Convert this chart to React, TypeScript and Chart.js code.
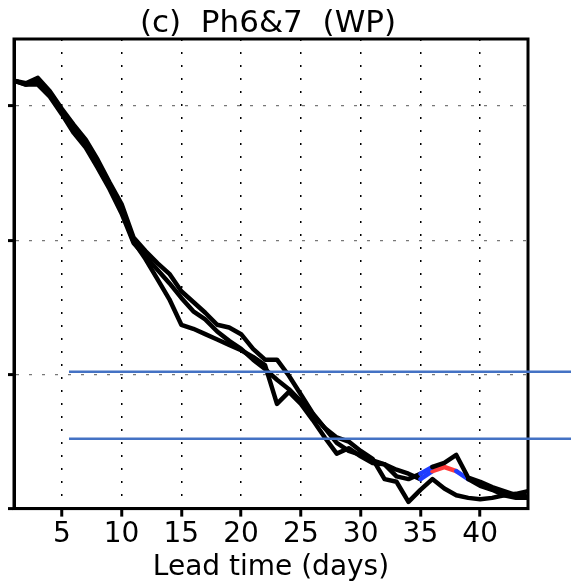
import React, { useEffect, useRef } from "react";
import { Chart, registerables } from "chart.js";

Chart.register(...registerables);

const titleText = "(c)  Ph6&7  (WP)";
const xTitleText = "Lead time (days)";

const leadDays = [
  1, 2, 3, 4, 5, 6, 7, 8, 9, 10, 11, 12, 13, 14, 15, 16, 17, 18, 19, 20, 21, 22,
  23, 24, 25, 26, 27, 28, 29, 30, 31, 32, 33, 34, 35, 36, 37, 38, 39, 40, 41, 42, 43, 44,
];

const seriesA = [
  3.19, 3.16, 3.19, 3.1, 2.96, 2.84, 2.72, 2.57, 2.4, 2.23, 1.99, 1.86, 1.71, 1.56, 1.37, 1.34,
  1.3, 1.26, 1.22, 1.18, 1.13, 1.07, 0.78, 0.87, 0.78, 0.66, 0.53, 0.41, 0.45, 0.39, 0.34, 0.33,
  0.24, 0.22, 0.26, 0.31, 0.34, 0.4, 0.23, 0.2, 0.16, 0.13, 0.1, 0.09,
];

const seriesB = [
  3.19, 3.16, 3.16, 3.07, 2.94, 2.8, 2.69, 2.54, 2.38, 2.2, 1.98, 1.88, 1.78, 1.68, 1.57, 1.47,
  1.41, 1.32, 1.25, 1.19, 1.11, 1.04, 0.96, 0.89, 0.8, 0.7, 0.6, 0.49, 0.43, 0.4, 0.36, 0.33,
  0.29, 0.26, 0.22, 0.28, 0.31, 0.28, 0.22, 0.17, 0.14, 0.1, 0.08, 0.08,
];

const seriesC = [
  3.19, 3.17, 3.21, 3.11, 2.98, 2.86, 2.75, 2.6, 2.43, 2.27, 2.02, 1.92, 1.83, 1.75, 1.62, 1.54,
  1.46, 1.37, 1.35, 1.3, 1.19, 1.11, 1.11, 0.99, 0.85, 0.71, 0.6, 0.53, 0.5, 0.43, 0.37, 0.22,
  0.2, 0.05, 0.14, 0.22, 0.15, 0.1, 0.08, 0.07, 0.08, 0.1, 0.11, 0.13,
];

// segment start days flagged as significant (red = positive, blue = negative)
const redSegA: number[] = [];
const blueSegA = [35];
const redSegB = [36, 37];
const blueSegB = [35, 38];
const redSegC: number[] = [];
const blueSegC: number[] = [];

const refLevels = [1.02, 0.52];
const refStartDay = 5.6;
const refEndDay = 48;

const xTickValues = [5, 10, 15, 20, 25, 30, 35, 40];
const yTickValues = [0, 1, 2, 3];
const xMin = 1;
const xMax = 44;
const yMin = 0;
const yMax = 3.5;

export default function App() {
  const ref = useRef<HTMLCanvasElement>(null);

  useEffect(() => {
    const canvas = ref.current;
    if (!canvas) return;

    const framePlugin = {
      id: "frame",
      beforeDatasetsDraw(chart: any) {
        const { ctx, chartArea: a } = chart;
        ctx.save();
        ctx.strokeStyle = "#000";
        ctx.lineWidth = 3;
        ctx.strokeRect(a.left, a.top, a.right - a.left, a.bottom - a.top);
        ctx.restore();
      },
    };

    const blackSeries = [seriesA, seriesB, seriesC];
    const redSegs = [redSegA, redSegB, redSegC];
    const blueSegs = [blueSegA, blueSegB, blueSegC];

    const chart = new Chart(canvas, {
      type: "line",
      data: {
        datasets: [
          ...refLevels.map((level) => ({
            data: [
              { x: refStartDay, y: level },
              { x: refEndDay, y: level },
            ],
            borderColor: "#4472c4",
            borderWidth: 2.5,
            pointRadius: 0,
            clip: false as any,
            order: 0,
          })),
          ...blackSeries.map((s, k) => ({
            data: leadDays.map((d, i) => ({ x: d, y: s[i] })),
            borderColor: "#000",
            borderWidth: 4.5,
            pointRadius: 0,
            tension: 0,
            borderJoinStyle: "round" as const,
            borderCapStyle: "round" as const,
            order: 1,
            segment: {
              borderColor: (c: any) => {
                const d = c.p0.parsed.x;
                if (redSegs[k].includes(d)) return "#ff3b3b";
                if (blueSegs[k].includes(d)) return "#1f3dff";
                return undefined;
              },
            },
          })),
        ],
      },
      options: {
        responsive: false,
        animation: false,
        layout: { padding: { left: 8, right: 43, top: 0, bottom: 0 } },
        plugins: {
          legend: { display: false },
          tooltip: { enabled: false },
          title: {
            display: true,
            text: titleText,
            color: "#000",
            font: { family: "DejaVu Sans", size: 31, weight: "normal", lineHeight: 1.0 },
            padding: { top: 8, bottom: 0 },
          },
        },
        scales: {
          x: {
            type: "linear",
            min: xMin,
            max: xMax,
            afterBuildTicks: (s: any) => {
              s.ticks = xTickValues.map((v) => ({ value: v }));
            },
            ticks: {
              color: "#000",
              font: { family: "DejaVu Sans", size: 28 },
              padding: 1,
              maxRotation: 0,
              autoSkip: false,
            },
            grid: {
              color: "#000",
              lineWidth: 1.5,
              tickLength: 8,
              tickWidth: 3,
              tickColor: "#000",
            },
            border: { display: true, color: "#000", width: 3, dash: [2, 11] },
            title: {
              display: true,
              text: xTitleText,
              color: "#000",
              font: { family: "DejaVu Sans", size: 28, lineHeight: 1.1 },
              padding: 0,
            },
          },
          y: {
            type: "linear",
            min: yMin,
            max: yMax,
            afterBuildTicks: (s: any) => {
              s.ticks = yTickValues.map((v) => ({ value: v }));
            },
            ticks: { display: false },
            grid: {
              color: "#777",
              lineWidth: 1.2,
              tickLength: 6,
              tickWidth: 3,
              tickColor: "#000",
            },
            border: { display: true, color: "#000", width: 3, dash: [3, 10] },
          },
        },
      },
      plugins: [framePlugin],
    } as any);

    return () => chart.destroy();
  }, []);

  return (
    <div
      style={{
        position: "fixed",
        left: 0,
        top: 0,
        width: 571,
        height: 583,
        background: "#fff",
      }}
    >
      <canvas ref={ref} width={571} height={583} style={{ display: "block" }} />
    </div>
  );
}
